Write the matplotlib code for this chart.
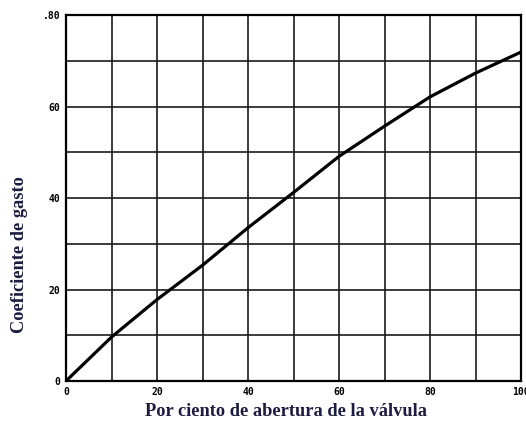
import matplotlib.pyplot as plt

# ── Data ────────────────────────────────────────────────────────────────────
apertura = [0, 10, 20, 30, 40, 50, 60, 70, 80, 90, 100]          # % opening
coef = [0.0, 0.096, 0.178, 0.253, 0.335, 0.412, 0.491, 0.557, 0.621, 0.673, 0.719]

x_ticks = [0, 20, 40, 60, 80, 100]
x_labels = ["0", "20", "40", "60", "80", "100"]
y_ticks = [0.0, 0.2, 0.4, 0.6, 0.8]
y_labels = ["0", "20", "40", "60", ".80"]

LABEL_COLOR = "#1c1c40"
W, H = 526, 422

fig = plt.figure(figsize=(W / 100, H / 100), dpi=100)
ax = fig.add_axes([66 / W, 1 - 381 / H, 455 / W, 366 / H])

ax.plot(apertura, coef, color="black", lw=2.3, solid_capstyle="round", zorder=3)

ax.set_xlim(0, 100)
ax.set_ylim(0, 0.8)

# grid every 10 % and every 0.1
for gx in range(10, 100, 10):
    ax.axvline(gx, color="#1a1a1a", lw=1.2, zorder=1)
for gy in [0.1, 0.2, 0.3, 0.4, 0.5, 0.6, 0.7]:
    ax.axhline(gy, color="#1a1a1a", lw=1.2, zorder=1)

for s in ax.spines.values():
    s.set_linewidth(1.6)
    s.set_color("black")

tick_font = dict(family="DejaVu Sans Mono", weight="bold", size=7)
ax.set_xticks(x_ticks, x_labels, **tick_font)
ax.set_yticks(y_ticks, y_labels, **tick_font)
ax.tick_params(length=0, pad=4)

# axis titles placed in figure pixels, as in the scanned original
lab_font = dict(family="Liberation Serif", weight="bold", size=13.2, color=LABEL_COLOR)
fig.text(286 / W, 1 - 412 / H, "Por ciento de abertura de la válvula",
         ha="center", va="center", **lab_font)
fig.text(20 / W, 1 - 255 / H, "Coeficiente de gasto", rotation=90,
         ha="center", va="center", **lab_font)

fig.savefig("out.png", dpi=100)
